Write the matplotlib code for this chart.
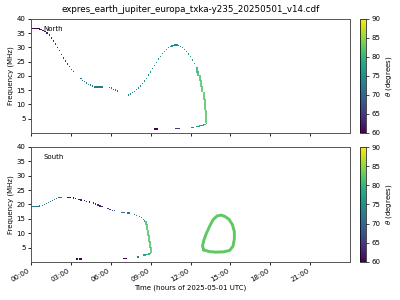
#!/usr/bin/env python3
"""ExPRES Europa-Io style dynamic spectrum: North / South emission, colour = theta."""

import matplotlib
matplotlib.use("Agg")
import matplotlib.pyplot as plt
from matplotlib.colors import Normalize
from matplotlib.cm import ScalarMappable


TITLE = "expres_earth_jupiter_europa_txka-y235_20250501_v14.cdf"
HOUR_TICKS = [0, 3, 6, 9, 12, 15, 18, 21]
FREQ_TICKS = [5, 10, 15, 20, 25, 30, 35, 40]
THETA_TICKS = [60, 65, 70, 75, 80, 85, 90]

# --- North hemisphere: sampled points (hours, MHz, theta deg)
NORTH_T = [0.0, 0.08, 0.16, 0.24, 0.32, 0.4, 0.48, 0.56, 0.64, 0.75, 0.9, 1.05,
           1.2, 1.4, 1.55, 1.7, 1.85, 2.0, 2.15, 2.3, 2.45, 2.6, 2.75, 2.9, 3.05,
           3.2, 3.75, 3.9, 4.05, 4.2, 4.35, 4.5, 4.65, 4.8, 4.88, 4.96, 5.04,
           5.12, 5.2, 5.28, 5.36, 5.9, 6.05, 6.2, 6.35, 6.5, 7.35, 7.5, 7.65,
           7.8, 7.95, 8.1, 8.25, 8.4, 8.55, 8.7, 8.85, 9.0, 9.15, 9.3, 9.45,
           9.6, 9.75, 9.9, 10.05, 10.2, 10.35, 10.5, 10.6, 10.7, 10.8, 10.9,
           11.0, 11.1, 11.25, 11.4, 11.55, 11.7, 11.85, 12.0, 12.15, 12.3, 12.45]
NORTH_F = [36.5, 36.6, 36.7, 36.7, 36.7, 36.7, 36.7, 36.6, 36.5, 36.3, 36.0, 35.5,
           35.0, 34.3, 33.3, 32.3, 31.2, 30.0, 28.8, 27.5, 26.3, 25.2, 24.2, 23.2,
           22.3, 21.5, 19.0, 18.5, 18.0, 17.5, 17.1, 16.8, 16.5, 16.1, 16.1,
           16.1, 16.1, 16.1, 16.1, 16.1, 16.1, 16.0, 15.7, 15.3, 15.0, 14.7,
           13.3, 13.6, 14.1, 14.6, 15.2, 15.8, 16.5, 17.3, 18.2, 19.2, 20.3,
           21.4, 22.6, 23.7, 24.8, 25.9, 26.9, 27.8, 28.6, 29.3, 29.9, 30.3,
           30.5, 30.7, 30.8, 30.8, 30.8, 30.6, 30.3, 29.9, 29.3, 28.6, 27.7,
           26.7, 25.6, 24.3, 22.9]
NORTH_TH = [60, 60, 60, 60, 60, 60, 60, 60, 60, 61, 61, 62, 62, 63, 63, 63, 64,
            64, 64, 64, 65, 65, 65, 66, 66, 67, 71, 71, 72, 72, 72, 72, 72, 72,
            72, 72, 72, 72, 72, 72, 72, 72, 72, 72, 72, 72, 74, 74, 74, 74, 74,
            74, 74, 75, 75, 75, 75, 75, 75, 75, 75, 75, 75, 75, 75, 75, 75, 75,
            75, 74, 74, 74, 75, 75, 76, 76, 76, 77, 77, 77, 78, 78, 79]

# North low-frequency dashes near the cutoff
NORTH_LOW_T = [9.3, 9.38, 9.46, 9.54, 10.9, 10.98, 11.06, 11.14, 12.05, 12.12,
               12.2, 12.5, 12.6, 12.7, 12.8, 12.9, 13.0, 13.1, 13.18]
NORTH_LOW_F = [1.4, 1.4, 1.4, 1.4, 1.6, 1.6, 1.6, 1.6, 2.0, 2.0,
               2.0, 2.3, 2.3, 2.4, 2.5, 2.6, 2.8, 3.0, 3.3]
NORTH_LOW_TH = [60, 60, 60, 60, 65, 65, 65, 65, 75, 75,
                75, 77, 77, 78, 78, 79, 79, 80, 80]

# North thick descending branch: (hours, f low, f high, theta)
NORTH_BAND_T = [12.5, 12.6, 12.7, 12.8, 12.9, 13.0, 13.1, 13.2]
NORTH_BAND_LO = [21.0, 19.8, 18.2, 16.2, 14.2, 11.5, 8.0, 3.6]
NORTH_BAND_HI = [23.0, 21.6, 20.2, 18.6, 16.6, 14.5, 11.8, 8.2]
NORTH_BAND_TH = [79, 80, 81, 82, 82, 82, 82, 82]

# --- South hemisphere
SOUTH_T = [0.0, 0.08, 0.16, 0.24, 0.32, 0.4, 0.48, 0.56, 0.64, 0.85, 1.0, 1.15,
           1.3, 1.45, 1.6, 1.75, 1.9, 2.05, 2.15, 2.25, 2.75, 2.85, 2.95, 3.2,
           3.35, 3.6, 3.75, 4.05, 4.2, 4.4, 4.7, 4.85, 5.05, 5.2, 5.35, 5.8,
           5.95, 6.15, 6.3, 6.8, 6.9, 7.0, 7.3, 7.4, 7.8, 7.95, 8.15, 8.3,
           8.45, 8.55]
SOUTH_F = [19.2, 19.2, 19.2, 19.3, 19.3, 19.3, 19.4, 19.4, 19.5, 19.7, 20.0,
           20.3, 20.7, 21.0, 21.3, 21.7, 22.0, 22.4, 22.5, 22.5, 22.4, 22.4,
           22.4, 22.2, 22.0, 21.8, 21.6, 21.3, 21.1, 20.9, 20.5, 20.2, 19.8,
           19.5, 19.2, 18.5, 18.3, 18.0, 17.8, 17.2, 17.2, 17.2, 17.0, 17.0,
           16.5, 16.2, 15.8, 15.4, 14.8, 14.2]
SOUTH_TH = [72, 72, 72, 72, 72, 72, 72, 72, 72, 72, 72, 72, 72, 71, 71, 71, 70,
            70, 70, 70, 61, 61, 61, 61, 61, 62, 62, 62, 62, 62, 62, 63, 63, 63,
            63, 66, 66, 67, 67, 70, 70, 70, 71, 71, 73, 74, 75, 76, 77, 78]

SOUTH_LOW_T = [3.4, 3.47, 3.68, 3.75, 7.0, 7.08, 7.16, 8.0, 8.08, 8.5, 8.58,
               8.66, 8.74, 8.82, 8.9, 8.97]
SOUTH_LOW_F = [1.0, 1.0, 1.0, 1.0, 1.3, 1.3, 1.3, 1.7, 1.7, 2.4, 2.4,
               2.5, 2.6, 2.7, 2.8, 3.0]
SOUTH_LOW_TH = [60, 60, 60, 60, 60, 60, 60, 72, 72, 78, 78,
                78, 79, 79, 80, 80]

SOUTH_BAND_T = [8.62, 8.7, 8.78, 8.86, 8.94, 9.0]
SOUTH_BAND_LO = [12.8, 11.0, 9.0, 7.0, 5.0, 3.2]
SOUTH_BAND_HI = [14.4, 13.2, 11.2, 9.2, 7.2, 5.2]
SOUTH_BAND_TH = [81, 82, 82, 82, 82, 82]

# South closed loop (Io-like ring) around 13-15 h
RING_T = [13.0, 12.9, 13.0, 13.2, 13.45, 13.7, 14.0, 14.3, 14.6, 14.9, 15.15,
          15.3, 15.3, 15.2, 14.95, 14.5, 13.9, 13.4, 13.0]
RING_F = [4.2, 5.5, 7.5, 10.0, 12.5, 14.7, 16.0, 16.3, 15.8, 14.8, 13.0,
          10.5, 8.0, 5.5, 4.0, 3.5, 3.4, 3.6, 4.2]
RING_TH = 82.5


def draw_panel(ax, pts, low, band, label):
    cmap = plt.get_cmap("viridis")
    norm = Normalize(60, 90)
    t, f, th = pts
    ax.scatter(t, f, c=th, cmap=cmap, norm=norm, marker="s", s=0.9,
               linewidths=0)
    t, f, th = low
    ax.scatter(t, f, c=th, cmap=cmap, norm=norm, marker="s", s=0.9,
               linewidths=0)
    t, lo, hi, th = band
    ax.vlines(t, lo, hi, colors=cmap(norm(th)), linewidth=1.2)
    ax.set_xlim(0, 24)
    ax.set_ylim(0, 40)
    ax.set_xticks(HOUR_TICKS)
    ax.set_yticks(FREQ_TICKS)
    ax.set_ylabel("Frequency (MHz)", fontsize=5, labelpad=2)
    ax.tick_params(labelsize=5, length=2.5, width=0.6, pad=1.5)
    for s in ax.spines.values():
        s.set_linewidth(0.7)
        s.set_color("#555555")
    ax.text(0.04, 0.91, label, transform=ax.transAxes, fontsize=5,
            va="center", ha="left")


def add_cbar(fig, rect):
    cax = fig.add_axes(rect)
    sm = ScalarMappable(norm=Normalize(60, 90), cmap="viridis")
    cb = fig.colorbar(sm, cax=cax, ticks=THETA_TICKS)
    cb.set_label(r"$\theta$ (degrees)", fontsize=5, labelpad=3)
    cb.ax.tick_params(labelsize=5, length=2, width=0.5, pad=1.5)
    cb.outline.set_linewidth(0.5)


def main():
    fig = plt.figure(figsize=(4, 3), dpi=100)
    ax1 = fig.add_axes([0.0775, 0.557, 0.7975, 0.38])
    ax2 = fig.add_axes([0.0775, 0.127, 0.7975, 0.383])

    draw_panel(ax1, (NORTH_T, NORTH_F, NORTH_TH),
               (NORTH_LOW_T, NORTH_LOW_F, NORTH_LOW_TH),
               (NORTH_BAND_T, NORTH_BAND_LO, NORTH_BAND_HI, NORTH_BAND_TH),
               "North")
    draw_panel(ax2, (SOUTH_T, SOUTH_F, SOUTH_TH),
               (SOUTH_LOW_T, SOUTH_LOW_F, SOUTH_LOW_TH),
               (SOUTH_BAND_T, SOUTH_BAND_LO, SOUTH_BAND_HI, SOUTH_BAND_TH),
               "South")
    ring_color = plt.get_cmap("viridis")(Normalize(60, 90)(RING_TH))
    ax2.plot(RING_T, RING_F, color=ring_color, linewidth=2.1,
             solid_joinstyle="round")

    ax1.set_xticklabels([])
    ax2.set_xticklabels([f"{h:02d}:00" for h in HOUR_TICKS], rotation=30,
                        ha="right")
    ax2.set_xlabel("Time (hours of 2025-05-01 UTC)", fontsize=5, labelpad=1)

    add_cbar(fig, [0.9, 0.557, 0.016, 0.38])
    add_cbar(fig, [0.9, 0.127, 0.016, 0.383])

    fig.suptitle(TITLE, fontsize=6.3, x=0.476, y=0.985)
    fig.savefig("out.png", dpi=100)
    plt.close(fig)


if __name__ == "__main__":
    main()
